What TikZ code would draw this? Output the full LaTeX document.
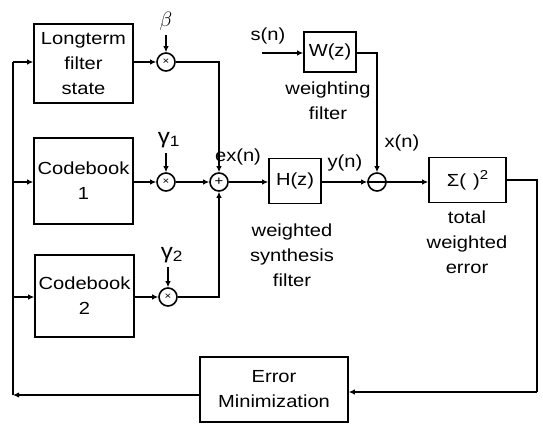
\documentclass[tikz,border=0pt]{standalone}
\usepackage{fontspec}
\setmainfont{Liberation Sans}[FakeStretch=1.15]
\usetikzlibrary{arrows.meta}
\begin{document}
\begin{tikzpicture}[x=1pt,y=-1pt,
  every node/.style={font=\fontsize{17.5}{25}\selectfont, inner sep=0pt},
  blk/.style={draw, line width=1.6pt, align=center},
  op/.style={draw, circle, line width=1.6pt, minimum size=18pt},
  lab/.style={align=center},
  wire/.style={line width=1.6pt},
  arr/.style={line width=1.6pt, -{Latex[length=6pt,width=5.5pt]}}]
\useasboundingbox (0,0) rectangle (543,433);
% blocks
\node[blk, minimum width=99pt, minimum height=79pt] (lt) at (83.5,63.5) {Longterm\\filter\\state};
\node[blk, minimum width=99pt, minimum height=86pt] (cb1) at (83.5,181) {Codebook\\1};
\node[blk, minimum width=99pt, minimum height=82pt] (cb2) at (84.5,296) {Codebook\\2};
\node[blk, minimum width=52pt, minimum height=45pt] (hz) at (295,181) {H(z)};
\node[blk, minimum width=52pt, minimum height=40pt] (wz) at (330,52) {W(z)};
\node[blk, minimum width=77pt, minimum height=45pt] (sig) at (467.5,180) {Σ(\hspace{7pt})\raisebox{7pt}{\fontsize{13}{13}\selectfont 2}};
\node[blk, minimum width=148pt, minimum height=65pt] (em) at (274,389.5) {Error\\Minimization};
% operators
\node[op] (mb) at (166,62) {\fontsize{10}{10}\selectfont ×};
\node[op] (mg1) at (166,182) {\fontsize{10}{10}\selectfont ×};
\node[op] (mg2) at (168,297) {\fontsize{10}{10}\selectfont ×};
\node[op] (sum) at (219,182) {\fontsize{13}{13}\selectfont +};
\node[op] (sub) at (377,182) {};
\draw[line width=2.2pt] (sub.west) -- (sub.east);
% labels
\node (lb) at (166,21) {\fontsize{21}{21}\selectfont$\beta$};
\node (lg1) at (169,140) {\fontsize{21}{21}\selectfont γ\textsubscript{\fontsize{15}{15}\selectfont 1}};
\node (lg2) at (172,255) {\fontsize{21}{21}\selectfont γ\textsubscript{\fontsize{15}{15}\selectfont 2}};
\node (lex) at (238,157) {ex(n)};
\node (ly) at (345,163) {y(n)};
\node (lx) at (402,143) {x(n)};
\node (ls) at (268,36) {s(n)};
\node[lab] (lwf) at (328,101) {weighting\\filter};
\node[lab] (lws) at (292,255) {weighted\\synthesis\\filter};
\node[lab] (lte) at (467,242) {total\\weighted\\error};
% coordinates
\coordinate (bs) at (166,35);
\coordinate (g1s) at (166,153);
\coordinate (g2s) at (168,267);
\coordinate (sin) at (262,53);
\coordinate (lft) at (13,395);
\coordinate (ltop) at (13,62);
\coordinate (l1) at (13,182);
\coordinate (l2) at (13,297);
\coordinate (rt) at (537,180);
\coordinate (rb) at (537,392);
% connectors
\draw[arr] (bs) -- (mb);
\draw[arr] (g1s) -- (mg1);
\draw[arr] (g2s) -- (mg2);
\draw[arr] (lt.east |- mb) -- (mb);
\draw[arr] (cb1.east |- mg1) -- (mg1);
\draw[arr] (cb2.east |- mg2) -- (mg2);
\draw[arr] (mb) -| (sum);
\draw[arr] (mg1) -- (sum);
\draw[arr] (mg2) -| (sum);
\draw[arr] (sum) -- (hz.west |- sum);
\draw[arr] (hz.east |- sub) -- (sub);
\draw[arr] (sin) -- (wz.west |- sin);
\draw[arr] (wz.east |- sin) -| (sub);
\draw[arr] (sub) -- (sig.west |- sub);
\draw[wire] (sig.east |- rt) -- (rt) -- (rb);
\draw[arr] (rb) -- (em.east |- rb);
\draw[arr] (em.west |- lft) -- (lft);
\draw[wire] (lft) -- (ltop);
\draw[arr] (ltop) -- (lt.west |- ltop);
\draw[arr] (l1) -- (cb1.west |- l1);
\draw[arr] (l2) -- (cb2.west |- l2);
\end{tikzpicture}
\end{document}
